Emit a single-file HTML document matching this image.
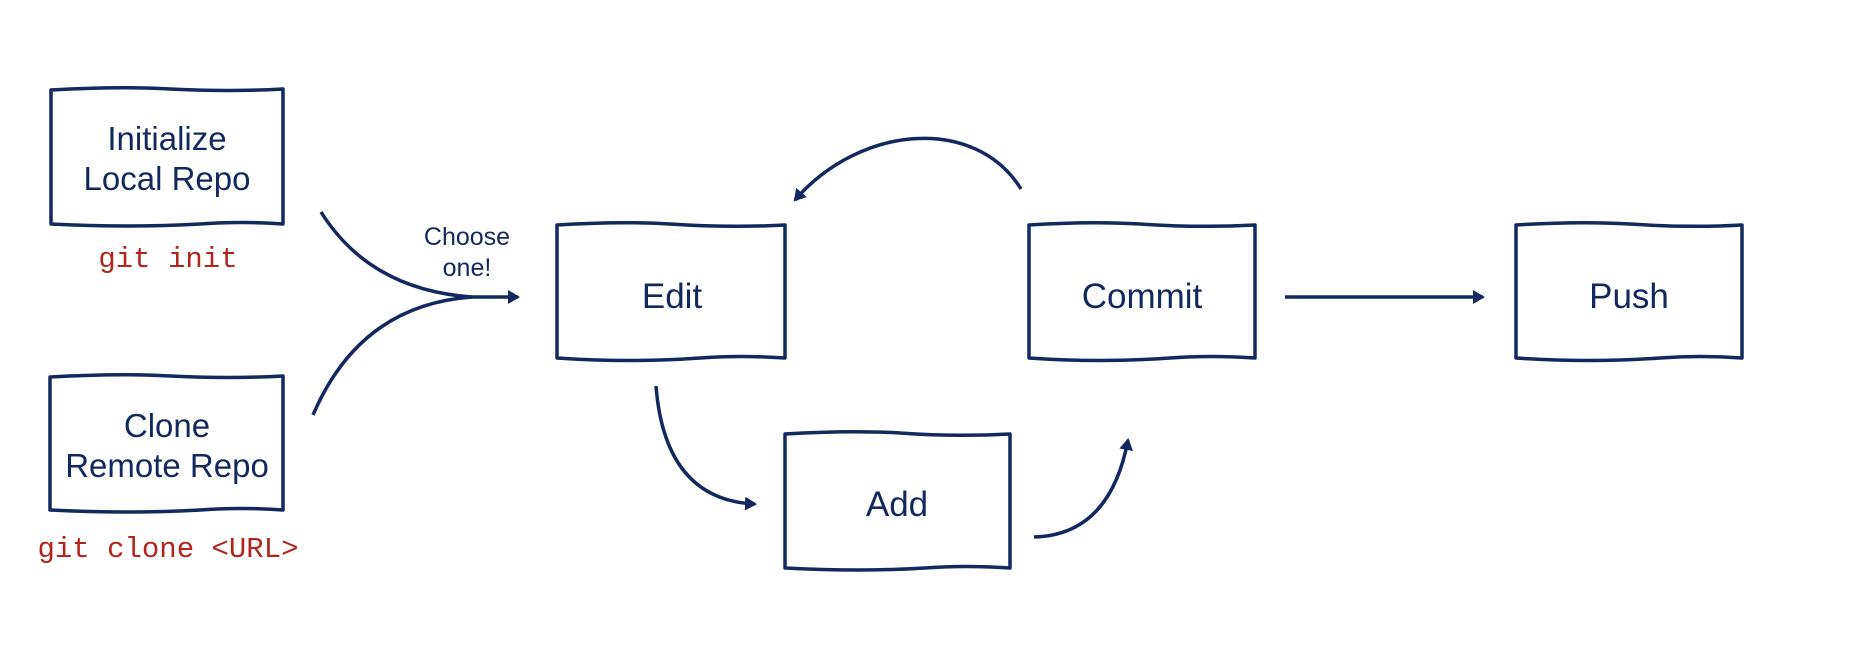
<!DOCTYPE html>
<html><head><style>
html,body{margin:0;padding:0;background:#fff;}
svg{display:block;}
.t{font-family:"Liberation Sans",sans-serif;fill:#12285e;text-anchor:middle;}
.c{font-family:"Liberation Mono",monospace;fill:#b0251c;text-anchor:middle;font-size:29px;}
</style></head><body>
<svg width="1850" height="656" viewBox="0 0 1850 656" xmlns="http://www.w3.org/2000/svg">
<defs>
<marker id="a" markerWidth="16" markerHeight="16" refX="10" refY="7" orient="auto" markerUnits="userSpaceOnUse">
<path d="M0,0 L12,7 L0,14 Z" fill="#12285e"/></marker>
</defs>
<g fill="none" stroke="#12285e" stroke-width="3.5" stroke-linejoin="round">
<path d="M51,90 Q120,86 170,89 Q230,92 283,89 L283,224 Q240,221 200,224 Q130,228 51,224 Z"/>
<path d="M50,377 Q120,373 170,376 Q230,379 283,376 L283,510 Q240,507 200,510 Q130,514 50,510 Z"/>
<path d="M557,225 Q620,221 670,224 Q730,228 785,225 L785,358 Q740,355 700,358 Q630,363 557,358 Z"/>
<path d="M785,434 Q850,430 900,433 Q955,437 1010,434 L1010,568 Q965,565 925,568 Q860,572 785,568 Z"/>
<path d="M1029,225 Q1090,221 1140,224 Q1200,228 1255,225 L1255,358 Q1210,355 1170,358 Q1100,363 1029,358 Z"/>
<path d="M1516,225 Q1580,221 1630,224 Q1690,228 1742,225 L1742,358 Q1700,355 1660,358 Q1590,363 1516,358 Z"/>
<path d="M321,212 Q370,290 472,297"/>
<path d="M313,415 Q360,305 472,297 L518,297" marker-end="url(#a)"/>
<path d="M656,386 Q665,500 755,504" marker-end="url(#a)"/>
<path d="M1034,537 Q1110,535 1128,440" marker-end="url(#a)"/>
<path d="M1021,189 C975,115 860,125 795,200" marker-end="url(#a)"/>
<path d="M1285,297 L1483,297" marker-end="url(#a)"/>
</g>
<text class="t" font-size="33" x="167" y="150">Initialize</text>
<text class="t" font-size="33" x="167" y="190">Local Repo</text>
<text class="c" x="168" y="267">git init</text>
<text class="t" font-size="33" x="167" y="437">Clone</text>
<text class="t" font-size="33" x="167" y="477">Remote Repo</text>
<text class="c" x="168" y="557">git clone &lt;URL&gt;</text>
<text class="t" font-size="25" x="467" y="245">Choose</text>
<text class="t" font-size="25" x="467" y="276">one!</text>
<text class="t" font-size="35" x="672" y="308">Edit</text>
<text class="t" font-size="35" x="897" y="516">Add</text>
<text class="t" font-size="35" x="1142" y="308">Commit</text>
<text class="t" font-size="35" x="1629" y="308">Push</text>
</svg>
</body></html>
